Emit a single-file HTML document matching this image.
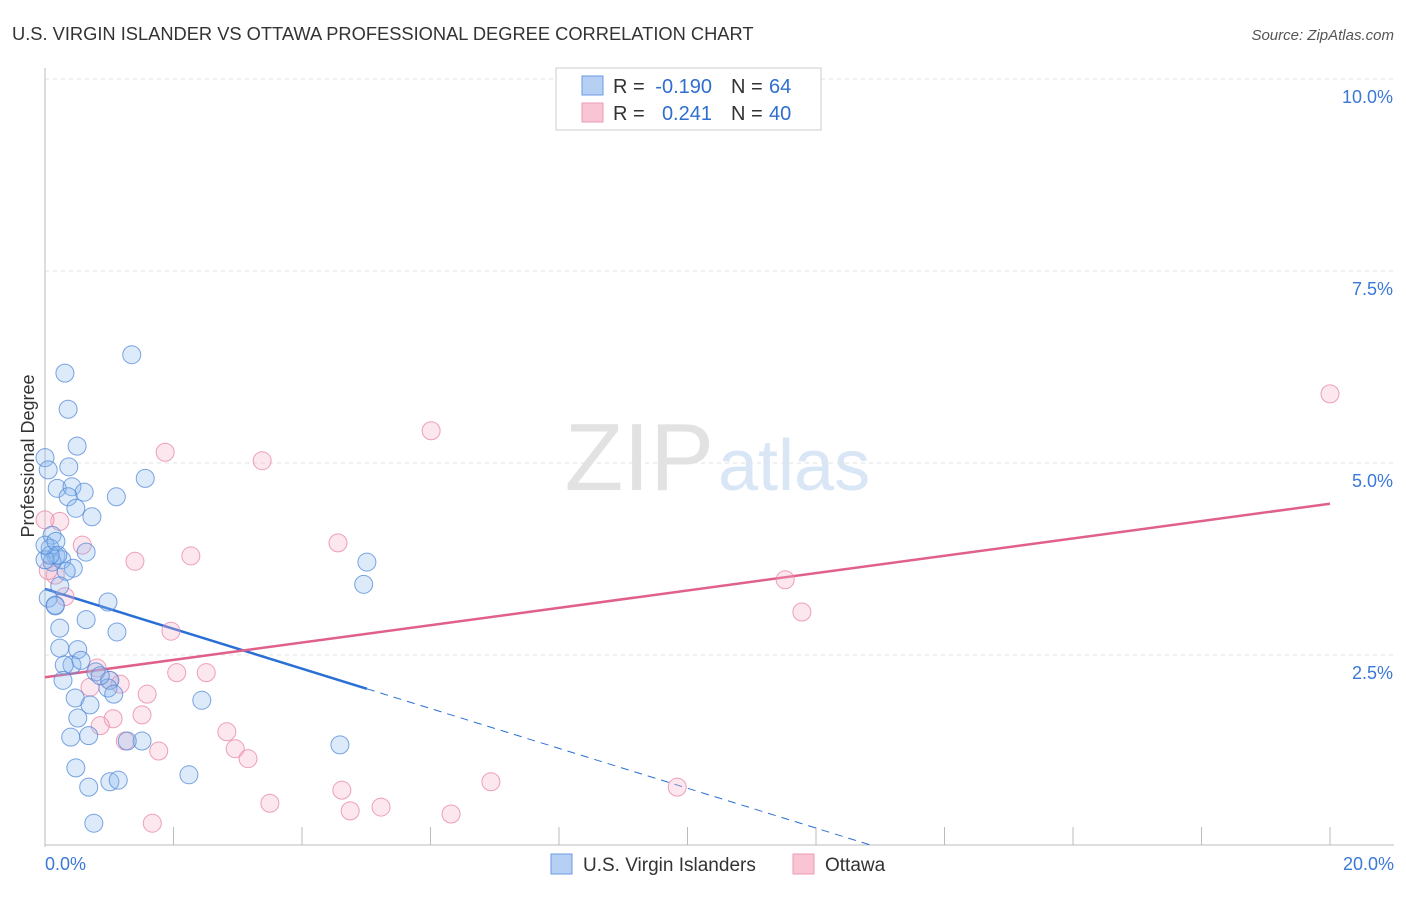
<!DOCTYPE html>
<html><head><meta charset="utf-8"><style>
body{margin:0;background:#fff;font-family:"Liberation Sans",sans-serif}
svg text{font-family:"Liberation Sans",sans-serif}
</style></head><body>
<svg id="chart" width="1406" height="892">
<text x="12" y="40" font-size="18.3" fill="#333">U.S. VIRGIN ISLANDER VS OTTAWA PROFESSIONAL DEGREE CORRELATION CHART</text>
<text x="1394" y="40" font-size="15" fill="#555" font-style="italic" text-anchor="end">Source: ZipAtlas.com</text>
<text x="714" y="490" font-size="96" fill="#e2e2e2" text-anchor="end" font-family="Liberation Serif">ZIP</text>
<text x="718" y="490" font-size="72" fill="#d9e6f6">atlas</text>
<text transform="translate(34,456) rotate(-90)" font-size="18" fill="#333" text-anchor="middle">Professional Degree</text>
<g id="grid"></g><g id="ticks"></g><g id="trends"></g><g id="pts"></g>
<g>
<rect x="556" y="68" width="265" height="62" fill="#fff" stroke="#ccc"/>
<rect x="582" y="76" width="21" height="19" fill="#b5d0f3" stroke="#6a9ae0"/>
<rect x="582" y="103" width="21" height="19" fill="#f9c5d4" stroke="#ec9ab2"/>
<text x="613" y="93" font-size="20" fill="#333">R =</text>
<text x="712" y="93" font-size="20" fill="#2f6ecf" text-anchor="end">-0.190</text>
<text x="731" y="93" font-size="20" fill="#333">N =</text>
<text x="769" y="93" font-size="20" fill="#2f6ecf">64</text>
<text x="613" y="120" font-size="20" fill="#333">R =</text>
<text x="712" y="120" font-size="20" fill="#2f6ecf" text-anchor="end">0.241</text>
<text x="731" y="120" font-size="20" fill="#333">N =</text>
<text x="769" y="120" font-size="20" fill="#2f6ecf">40</text>
</g>
<g>
<rect x="551" y="854" width="21" height="20" fill="#b5d0f3" stroke="#6a9ae0"/>
<text x="583" y="871" font-size="19" fill="#333">U.S. Virgin Islanders</text>
<rect x="793" y="854" width="21" height="20" fill="#f9c5d4" stroke="#ec9ab2"/>
<text x="825" y="871" font-size="19" fill="#333">Ottawa</text>
</g>
</svg>
<script>
const yTicks=[2.5,5.0,7.5,10.0];
const yTickLabels=["2.5%","5.0%","7.5%","10.0%"];
const xEnds=["0.0%","20.0%"];
const blueX=[1.35,0.31,0.36,0.50,0.37,0.0,0.05,0.19,0.42,0.61,0.36,0.48,0.73,1.11,1.56,0.11,0.08,0.17,0.26,0.44,0.64,0.33,0.11,0.20,0.23,0.05,0.16,0.98,0.23,1.12,0.64,0.51,0.23,0.42,0.30,0.56,0.28,0.79,1.01,0.98,1.07,0.47,0.70,0.51,0.68,0.40,1.51,2.44,4.59,0.48,1.01,1.14,0.68,0.76,2.24,4.96,5.01,0.0,0.08,1.28,0.0,0.16,0.86,0.17];
const blueY=[6.41,6.17,5.70,5.22,4.95,5.07,4.91,4.67,4.69,4.62,4.56,4.41,4.30,4.56,4.80,4.06,3.89,3.79,3.74,3.63,3.84,3.59,3.71,3.80,3.40,3.24,3.14,3.19,2.85,2.80,2.96,2.57,2.59,2.37,2.37,2.43,2.17,2.28,2.17,2.07,1.99,1.94,1.85,1.68,1.45,1.43,1.38,1.91,1.33,1.03,0.85,0.87,0.78,0.31,0.94,3.42,3.71,3.74,3.80,1.38,3.93,3.15,2.23,3.98];
const pinkX=[0.23,0,1.87,3.38,6.01,20.0,4.56,2.27,1.40,0.58,0.31,0.16,1.96,2.05,2.51,1.00,0.70,1.17,1.59,1.51,1.06,0.86,2.83,2.96,1.77,1.25,3.16,3.50,4.62,4.75,5.23,6.32,6.94,9.84,1.67,11.52,11.78,8.30,0.81,0.05];
const pinkY=[4.24,4.26,5.14,5.03,5.42,5.90,3.96,3.79,3.72,3.93,3.26,3.54,2.81,2.27,2.27,2.17,2.08,2.12,1.99,1.72,1.67,1.58,1.50,1.28,1.25,1.38,1.15,0.57,0.74,0.47,0.52,0.43,0.85,0.78,0.31,3.48,3.06,9.53,2.33,3.60];
const blueTrend=[3.36,2.06]; const blueTrendX=[0,5.01,12.9];
const pinkTrend=[2.21,4.47]; const pinkTrendX=[0,20];
const NS="http://www.w3.org/2000/svg";
const sx=v=>45+v*64.25, sy=v=>847-v*76.8;
function mk(p,t,a){const e=document.createElementNS(NS,t);for(const k in a)e.setAttribute(k,a[k]);p.appendChild(e);return e;}
const grid=document.getElementById('grid'),ticks=document.getElementById('ticks'),tr=document.getElementById('trends'),pts=document.getElementById('pts');
yTicks.forEach((t,i)=>{
 const l=mk(grid,'line',{x1:45,x2:1394,y1:sy(t),y2:sy(t),stroke:'#e2e2e2','stroke-dasharray':'4,4'});
 
 
 const tx=mk(ticks,'text',{x:1393,y:sy(t)+24,'font-size':18,fill:'#3b78d8','text-anchor':'end'});tx.textContent=yTickLabels[i];
 
 
});
mk(grid,'line',{x1:45,x2:45,y1:68,y2:847,stroke:'#bbb'});
mk(grid,'line',{x1:45,x2:1394,y1:845,y2:845,stroke:'#bbb'});
for(let v=0;v<=20;v+=2){const l=mk(grid,'line',{x1:sx(v),x2:sx(v),y1:827,y2:845,stroke:'#bbb'});
 
 }
let a=mk(ticks,'text',{x:45,y:870,'font-size':18,fill:'#3b78d8'});a.textContent=xEnds[0];


a=mk(ticks,'text',{x:1394,y:870,'font-size':18,fill:'#3b78d8','text-anchor':'end'});a.textContent=xEnds[1];


function pt(x,y,fill,stroke,name){const c=mk(pts,'circle',{cx:sx(x),cy:sy(y),r:9,fill:fill,stroke:stroke,'stroke-width':1});
 
 }
pinkX.forEach((x,i)=>pt(x,pinkY[i],'rgba(246,175,198,0.3)','rgba(232,130,165,0.75)','ottawa-point'));
blueX.forEach((x,i)=>pt(x,blueY[i],'rgba(140,185,240,0.3)','rgba(80,135,215,0.75)','virgin-islanders-point'));
const bs=(blueTrend[1]-blueTrend[0])/blueTrendX[1];
let l=mk(tr,'line',{x1:sx(0),y1:sy(blueTrend[0]),x2:sx(blueTrendX[1]),y2:sy(blueTrend[1]),stroke:'#2a6fd6','stroke-width':2.5});


l=mk(tr,'line',{x1:sx(blueTrendX[1]),y1:sy(blueTrend[1]),x2:sx(blueTrendX[2]),y2:sy(blueTrend[0]+bs*blueTrendX[2]),stroke:'#2a6fd6','stroke-width':1,'stroke-dasharray':'8,6'});


l=mk(tr,'line',{x1:sx(pinkTrendX[0]),y1:sy(pinkTrend[0]),x2:sx(pinkTrendX[1]),y2:sy(pinkTrend[1]),stroke:'#e0608a','stroke-width':2.5});


</script>
</body></html>
